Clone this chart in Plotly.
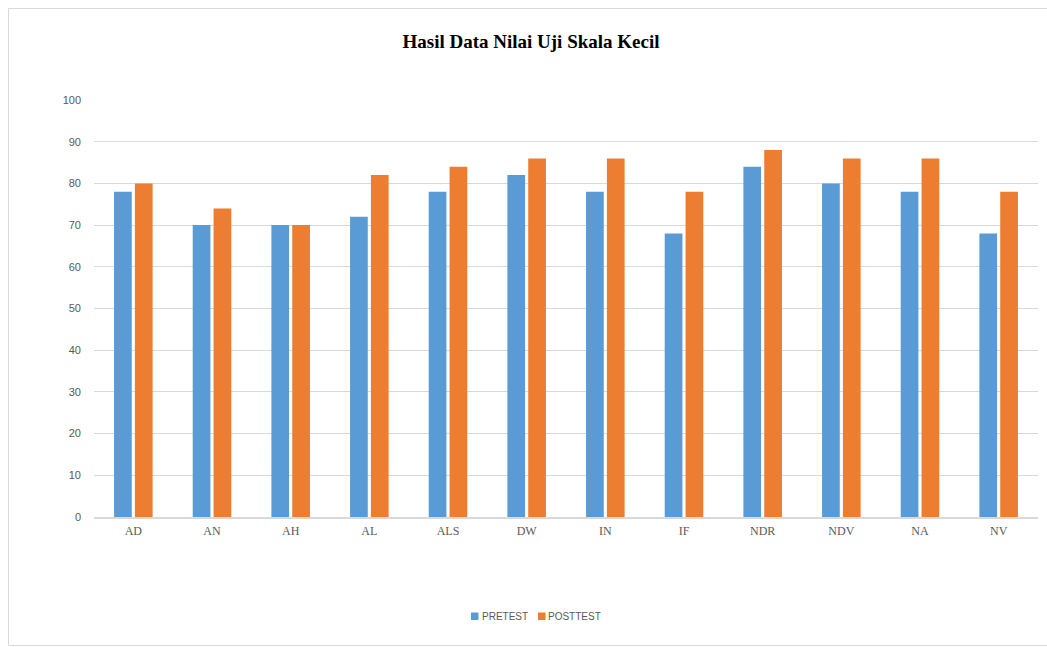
import plotly.graph_objects as go

categories = ["AD", "AN", "AH", "AL", "ALS", "DW", "IN", "IF", "NDR", "NDV", "NA", "NV"]
pretest = [78, 70, 70, 72, 78, 82, 78, 68, 84, 80, 78, 68]
posttest = [80, 74, 70, 82, 84, 86, 86, 78, 88, 86, 86, 78]
y_ticks = list(range(0, 101, 10))
series_names = ["PRETEST", "POSTTEST"]
series_colors = ["#5B9BD5", "#ED7D31"]

W, H = 1047, 647
ML, MR, MT, MB = 94, 9, 100, 130
pw, ph = W - ML - MR, H - MT - MB

def px_to_paper_x(px):
    return (px - ML) / pw

def px_to_paper_y(py):
    return (H - MB - py) / ph

fig = go.Figure()
fig.add_trace(go.Bar(name=series_names[0], x=categories, y=pretest,
                     marker=dict(color=series_colors[0], line=dict(width=0))))
fig.add_trace(go.Bar(name=series_names[1], x=categories, y=posttest,
                     marker=dict(color=series_colors[1], line=dict(width=0))))

# compact legend drawn like the reference (small squares + labels)
legend_sq_x = [471, 538]
legend_txt_x = [481, 547]
legend_y = 616
shapes = [dict(type="rect", xref="paper", yref="paper",
               x0=px_to_paper_x(8.5), x1=px_to_paper_x(1060),
               y0=px_to_paper_y(645.5), y1=px_to_paper_y(8.5),
               line=dict(color="#D9D9D9", width=1), fillcolor="rgba(0,0,0,0)",
               layer="below")]
annotations = []
for name, col, sx, tx in zip(series_names, series_colors, legend_sq_x, legend_txt_x):
    shapes.append(dict(type="rect", xref="paper", yref="paper",
                       x0=px_to_paper_x(sx), x1=px_to_paper_x(sx + 7.5),
                       y0=px_to_paper_y(legend_y + 4), y1=px_to_paper_y(legend_y - 3.5),
                       line=dict(width=0), fillcolor=col))
    annotations.append(dict(text=name, xref="paper", yref="paper",
                            x=px_to_paper_x(tx), xanchor="left",
                            y=px_to_paper_y(legend_y), yanchor="middle",
                            showarrow=False, borderpad=0,
                            font=dict(family="Liberation Sans", size=10, color="#595959")))

fig.update_layout(
    width=W, height=H,
    margin=dict(l=ML, r=MR, t=MT, b=MB),
    paper_bgcolor="white", plot_bgcolor="white",
    barmode="group", bargap=0.47, bargroupgap=0.15,
    showlegend=False,
    title=dict(text="<b>Hasil Data Nilai Uji Skala Kecil</b>",
               font=dict(family="Liberation Serif", size=19, color="#000000"),
               x=531 / W, xanchor="center", xref="container",
               y=1 - 41 / H, yanchor="middle", yref="container"),
    xaxis=dict(showgrid=False, showline=True, linecolor="#D9D9D9", linewidth=1.5,
               ticks="", ticklabelstandoff=2,
               tickfont=dict(family="Liberation Serif", size=12, color="#595959")),
    yaxis=dict(range=[0, 100], tickvals=y_ticks, showgrid=True, gridcolor="#D9D9D9",
               gridwidth=1, zeroline=False, showline=False, ticks="",
               ticklabelstandoff=12,
               tickfont=dict(family="Liberation Sans", size=11, color="#595959")),
    shapes=shapes,
    annotations=annotations,
)

fig.write_html("out.html")
